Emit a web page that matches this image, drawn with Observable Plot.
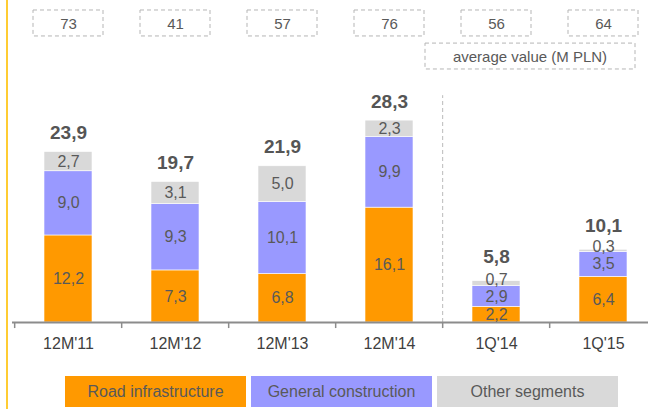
<!DOCTYPE html>
<html><head><meta charset="utf-8">
<script src="https://cdn.jsdelivr.net/npm/d3@7"></script>
<script src="https://cdn.jsdelivr.net/npm/@observablehq/plot@0.6"></script>
<style>
html,body{margin:0;padding:0;background:#fff;font-family:"Liberation Sans",Arial,sans-serif;}
#wrap{position:relative;width:648px;height:409px;overflow:hidden;}
#chart{position:absolute;left:0;top:0;}
#yl{position:absolute;left:6px;top:0;width:2px;height:409px;background:#FFCC33;z-index:5;}
#legend{position:absolute;top:376px;left:0;width:648px;height:31px;}
.lg{position:absolute;top:0;height:31px;width:181px;line-height:31px;text-align:center;font-size:16px;color:#595959;}
</style></head>
<body><div id="wrap"><div id="chart"></div><div id="legend"></div><div id="yl"></div></div>
<script>
const categories = ["12M'11", "12M'12", "12M'13", "12M'14", "1Q'14", "1Q'15"];
const seriesNames = ["Road infrastructure", "General construction", "Other segments"];
const seriesColors = ["#FF9900", "#9999FF", "#D9D9D9"];
const road = [12.2, 7.3, 6.8, 16.1, 2.2, 6.4];
const general = [9.0, 9.3, 10.1, 9.9, 2.9, 3.5];
const other = [2.7, 3.1, 5.0, 2.3, 0.7, 0.3];
const totals = [23.9, 19.7, 21.9, 28.3, 5.8, 10.1];
const avgValue = [73, 41, 57, 76, 56, 64];
const avgLabel = "average value (M PLN)";

const fmt = v => v.toFixed(1).replace(".", ",");
const seriesValues = [road, general, other];

// stacked segments
const segs = [];
categories.forEach((c, i) => {
  let base = 0;
  seriesValues.forEach((arr, s) => {
    const v = arr[i];
    segs.push({cat: c, series: seriesNames[s], value: v, y1: base, y2: base + v, mid: base + v / 2});
    base += v;
  });
});
const tops = categories.map((c, i) => ({cat: c, total: totals[i], top: road[i] + general[i] + other[i], small: other[i] < 1, avg: avgValue[i]}));

const step = 646 / 6;
const avgBox = (index, scales) => {
  const x = scales.x, y = scales.y;
  const bw = x.bandwidth ? x.bandwidth() : 48;
  const left = x("1Q'14") + bw / 2 - 71;
  const right = x("1Q'15") + bw / 2 + 32;
  const g = d3.create("svg:g");
  g.append("rect").attr("x", left).attr("y", y(39.1)).attr("width", right - left).attr("height", y(35.47) - y(39.1))
    .attr("fill", "none").attr("stroke", "#b5b5b5").attr("stroke-dasharray", "4,3");
  g.append("text").attr("x", (left + right) / 2).attr("y", y(37.2)).attr("dy", "0.35em")
    .attr("text-anchor", "middle").attr("fill", "#595959").attr("font-size", 15).text(avgLabel);
  return g.node();
};

const chart = Plot.plot({
  width: 648,
  height: 370,
  marginLeft: 12,
  marginRight: 0,
  marginTop: 0,
  marginBottom: 48,
  style: {fontFamily: "'Liberation Sans', Arial, sans-serif", background: "transparent"},
  x: {domain: categories, range: [12, 658], paddingInner: 0.554, paddingOuter: 0.277},
  y: {domain: [0, 45], range: [322, 1], axis: null},
  color: {domain: seriesNames, range: seriesColors},
  marks: [
    Plot.barY(segs, {x: "cat", y1: "y1", y2: "y2", fill: "series", stroke: "#fff", strokeWidth: 0.6}),
    Plot.ruleX(["1Q'14"], {x: d => d, y1: 0, y2: 31.8, dx: -step / 2, stroke: "#bbb", strokeDasharray: "4,3"}),
    Plot.ruleY([0], {stroke: "#8c8c8c", strokeWidth: 2}),
    Plot.ruleX(categories, {x: d => d, y1: 0, y2: -0.85, dx: -step / 2, stroke: "#8c8c8c", strokeWidth: 1.5}),
    Plot.axisX({tickSize: 0, tickPadding: 15, fontSize: 16, color: "#404040", label: null}),
    Plot.text(segs.filter(d => !(d.series === "Other segments" && d.value < 1)), {x: "cat", y: "mid", text: d => fmt(d.value), fill: "#595959", fontSize: 16}),
    Plot.text(segs.filter(d => d.series === "Other segments" && d.value < 1), {x: "cat", y: "mid", text: d => fmt(d.value), fill: "#595959", fontSize: 16, dy: -4}),
    Plot.text(tops.filter(d => !d.small), {x: "cat", y: "top", text: d => fmt(d.total), fill: "#555", fontSize: 19, fontWeight: "bold", dy: -19}),
    Plot.text(tops.filter(d => d.small), {x: "cat", y: "top", text: d => fmt(d.total), fill: "#555", fontSize: 19, fontWeight: "bold", dy: -24}),
    Plot.barY(tops, {x: "cat", y1: 40.1, y2: 43.74, fill: "none", stroke: "#b5b5b5", strokeDasharray: "4,3", insetLeft: -11, insetRight: -11}),
    Plot.text(tops, {x: "cat", y: 41.8, text: d => String(d.avg), fill: "#595959", fontSize: 15}),
    avgBox
  ]
});
document.getElementById("chart").appendChild(chart);

const legend = document.getElementById("legend");
const lgLeft = [65, 251, 437];
seriesNames.forEach((n, i) => {
  const d = document.createElement("div");
  d.className = "lg";
  d.style.left = lgLeft[i] + "px";
  d.style.background = seriesColors[i];
  d.textContent = n;
  legend.appendChild(d);
});
</script>
</body></html>
